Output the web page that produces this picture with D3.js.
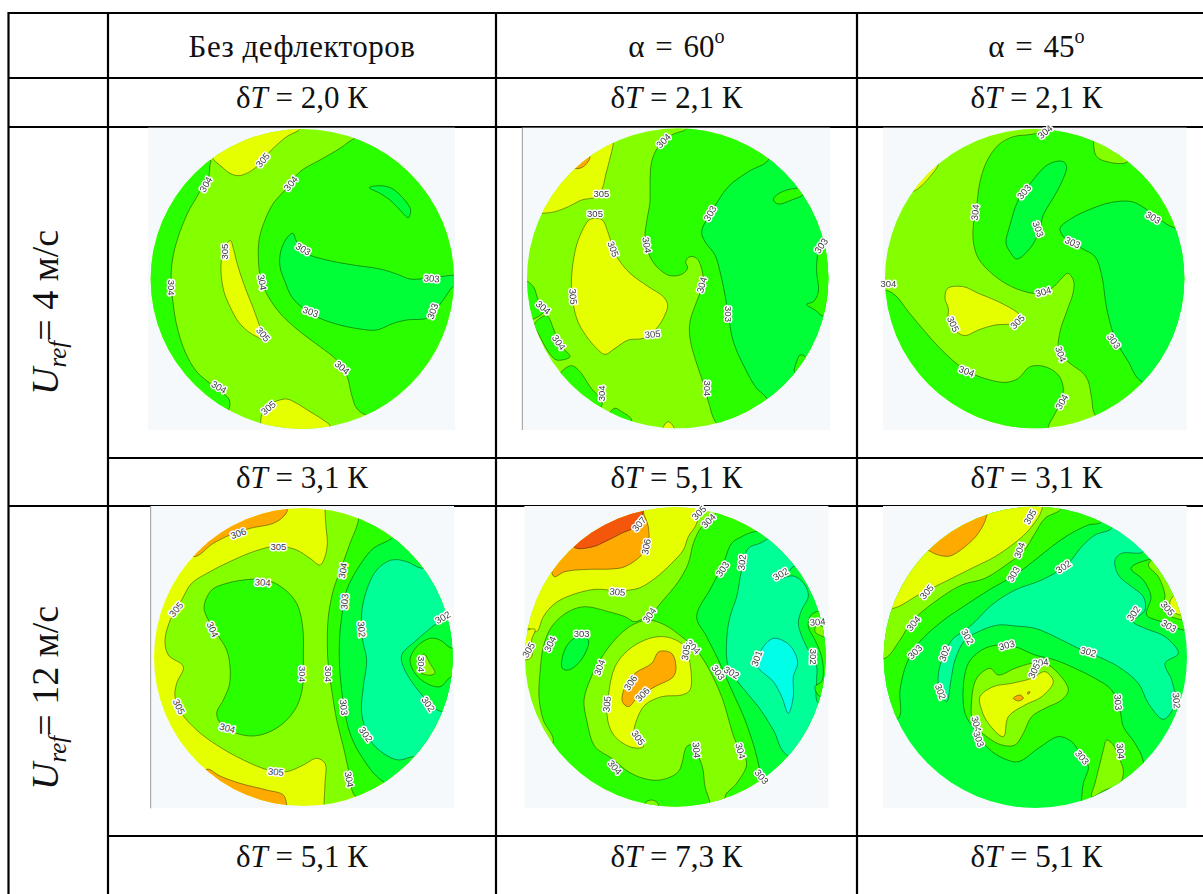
<!DOCTYPE html>
<html>
<head>
<meta charset="utf-8">
<script src="https://cdn.jsdelivr.net/npm/d3@7"></script>
<style>
  html, body { margin: 0; padding: 0; background: #fff; }
  .cell { font-family: "Liberation Serif", serif; fill: #111; }
  .lab { font-family: "Liberation Sans", sans-serif; font-size: 9.5px; fill: #3a3a3a; paint-order: stroke; stroke: #fff; stroke-width: 3px; stroke-linejoin: round; text-anchor: middle; dominant-baseline: central; }
  .soft { filter: blur(0.45px); }
</style>
</head>
<body>
<svg id="chart" width="1203" height="894"></svg>
<script>
// table text
var headers = ["Без дефлекторов", "60", "45"];
var deltaTop = ["2,0", "2,1", "2,1"];
var deltaRow1 = ["3,1", "5,1", "3,1"];
var deltaRow2 = ["5,1", "7,3", "5,1"];
var speeds = ["4", "12"];

// isotherm bands: t = temperature of the band, pts = its outline in section coordinates
var base1 = 304.5;
var bands1 = [
  {t:303.5, pts:[[212,105],[210,120],[205,160],[185,190],[165,225],[145,260],[120,320],[100,390],[93,460],[100,540],[110,600],[135,680],[170,740],[210,775],[250,805],[268,825],[265,855],[200,880],[0,600],[0,300],[100,100]]},
  {t:305.5, pts:[[218,100],[245,125],[270,145],[295,152],[320,145],[350,125],[380,90],[410,60],[440,35],[480,10],[400,-20],[200,50]]},
  {t:305.5, pts:[[362,895],[365,870],[385,840],[410,828],[440,822],[470,835],[510,860],[550,885],[572,905],[570,960],[360,960]]},
  {t:305.5, pts:[[272,347],[280,370],[290,410],[302,450],[320,500],[340,550],[358,600],[375,645],[350,635],[325,620],[295,590],[270,545],[252,500],[243,440],[245,400],[255,365],[265,350]]},
  {t:303.5, pts:[[645,40],[600,70],[540,105],[480,140],[440,190],[400,235],[375,285],[358,340],[355,400],[362,460],[385,515],[425,570],[480,620],[540,665],[590,705],[620,750],[635,810],[650,850],[678,870],[800,900],[1000,700],[1000,200],[800,0]]},
  {t:302.5, pts:[[458,325],[470,350],[500,385],[560,405],[640,420],[720,432],[770,447],[810,462],[860,460],[945,450],[1000,450],[1000,480],[940,485],[920,510],[895,545],[865,578],[800,585],[760,595],[710,615],[660,612],[600,600],[540,580],[490,550],[455,515],[435,470],[420,425],[422,380],[440,340]]},
  {t:302.5, pts:[[688,188],[720,182],[755,190],[785,215],[805,240],[812,255],[805,278],[780,255],[750,225],[720,205]]}
];
var labels1 = [[368,105,"305",-50],[197,178,"304",-60],[452,175,"304",-50],[252,380,"305",-90],[490,372,"303",30],[875,460,"303",5],[93,488,"304",90],[367,472,"304",80],[512,560,"303",20],[878,558,"303",-70],[370,628,"305",50],[607,727,"304",40],[237,786,"304",30],[385,848,"305",-40]];

var base2 = 304.5;
var bands2 = [
  {t:305.5, pts:[[295,55],[285,100],[272,150],[262,190],[245,215],[200,225],[160,245],[120,260],[80,265],[0,265],[0,0],[295,0]]},
  {t:306.5, pts:[[178,130],[205,125],[225,95],[200,60],[150,100]]},
  {t:305.5, pts:[[240,280],[262,285],[280,325],[300,385],[340,440],[400,485],[445,515],[458,540],[445,580],[420,615],[385,640],[340,645],[300,670],[270,688],[240,665],[205,620],[185,580],[170,500],[172,430],[185,360],[205,310],[222,285]]},
  {t:303.5, pts:[[515,10],[470,30],[430,65],[410,110],[405,180],[405,230],[395,290],[390,340],[405,395],[430,430],[465,452],[500,448],[518,430],[512,410],[525,395],[545,400],[558,425],[565,465],[560,490],[545,530],[525,590],[525,640],[540,700],[560,760],[580,830],[605,895],[700,960],[1000,960],[1000,0],[515,-30]]},
  {t:302.5, pts:[[760,105],[700,140],[640,185],[590,260],[560,320],[570,350],[600,390],[615,440],[630,510],[640,570],[655,650],[690,730],[725,790],[755,820],[800,960],[1000,960],[1000,0],[760,60]]},
  {t:303.5, pts:[[925,345],[908,390],[905,440],[910,500],[895,530],[875,538],[900,555],[925,575],[1000,600],[1000,340]]},
  {t:303.5, pts:[[850,188],[815,195],[785,210],[775,225],[790,237],[830,225],[870,205],[880,170]]},
  {t:303.5, pts:[[870,695],[855,690],[845,710],[838,740],[850,750],[900,760]]},
  {t:303.5, pts:[[30,468],[55,485],[70,525],[90,555],[50,585],[20,590]]},
  {t:303.5, pts:[[58,598],[95,572],[115,610],[135,660],[165,695],[125,705],[100,680],[70,625]]},
  {t:303.5, pts:[[138,742],[170,722],[195,740],[225,785],[262,835],[220,880],[120,790]]},
  {t:303.5, pts:[[298,850],[320,860],[350,885],[330,930],[270,900]]},
  {t:305.5, pts:[[445,905],[460,890],[480,915],[470,960],[430,960]]}
];
var labels2 = [[445,47,"304",-45],[259,205,"305",0],[240,266,"305",0],[585,265,"303",-60],[295,372,"305",70],[396,360,"304",80],[918,362,"303",-55],[560,480,"304",-75],[175,515,"305",85],[85,547,"304",40],[640,567,"303",90],[132,652,"304",55],[413,627,"305",-5],[258,805,"304",-90],[577,790,"304",90]];

var base3 = 304.5;
var bands3 = [
  {t:305.5, pts:[[190,118],[165,155],[140,182],[112,200],[50,200],[100,80],[190,60]]},
  {t:305.5, pts:[[218,490],[265,485],[310,505],[370,530],[430,565],[440,580],[420,595],[360,600],[310,615],[270,632],[245,620],[220,585],[220,550],[210,520]]},
  {t:303.5, pts:[[510,15],[470,28],[415,35],[370,60],[335,110],[315,170],[305,240],[295,300],[295,350],[310,400],[350,445],[400,480],[450,500],[490,505],[530,490],[560,460],[578,445],[595,465],[595,500],[575,560],[555,620],[552,680],[585,715],[625,745],[640,770],[650,820],[660,870],[750,960],[1000,960],[1000,-30],[510,-30]]},
  {t:304.5, pts:[[655,50],[662,90],[680,105],[755,112],[780,60],[650,0]]},
  {t:303.5, pts:[[30,495],[60,510],[100,560],[150,620],[195,670],[250,720],[300,750],[390,772],[430,760],[465,725],[510,725],[550,750],[565,790],[555,835],[535,875],[520,905],[520,960],[0,960],[-20,495]]},
  {t:302.5, pts:[[902,310],[850,280],[810,250],[770,230],[710,232],[640,255],[590,280],[555,310],[570,340],[620,370],[660,395],[680,450],[695,550],[720,640],[760,710],[800,770],[1000,800],[1000,310]]},
  {t:302.5, pts:[[540,110],[565,110],[575,125],[565,160],[540,210],[505,270],[490,325],[465,370],[425,402],[405,380],[393,355],[405,300],[430,225],[470,170],[510,125]]}
];
var labels3 = [[510,20,"304",-40],[300,262,"304",-85],[447,200,"303",-50],[835,277,"303",30],[490,312,"303",70],[593,352,"303",25],[40,475,"304",0],[505,500,"304",-15],[235,597,"305",65],[427,590,"305",-45],[717,648,"303",55],[558,687,"304",70],[275,738,"304",20],[560,830,"304",-60]];

var base4 = 305.5;
var bands4 = [
  {t:306.5, pts:[[160,170],[220,130],[270,105],[330,85],[400,70],[430,50],[442,30],[420,0],[100,100]]},
  {t:306.5, pts:[[200,808],[240,828],[300,850],[380,870],[430,885],[440,915],[440,960],[180,900]]},
  {t:304.5, pts:[[555,30],[558,80],[562,130],[555,170],[540,195],[510,175],[470,150],[430,140],[395,140],[340,155],[280,180],[210,215],[155,250],[125,300],[95,350],[75,420],[85,465],[130,500],[110,550],[105,590],[125,640],[170,690],[230,735],[310,780],[385,810],[440,815],[490,795],[530,775],[555,790],[555,850],[552,915],[552,960],[1000,960],[1000,-30],[555,-30]]},
  {t:303.5, pts:[[330,238],[380,240],[430,265],[470,310],[488,380],[490,470],[488,560],[470,620],[435,665],[390,695],[340,708],[290,700],[245,675],[230,640],[250,600],[268,555],[270,500],[260,450],[230,400],[200,350],[192,320],[215,270],[260,250]]},
  {t:303.5, pts:[[655,62],[630,130],[605,200],[580,270],[565,350],[562,430],[565,500],[575,570],[590,660],[610,740],[630,830],[645,888],[800,960],[1000,960],[1000,0],[655,0]]},
  {t:302.5, pts:[[755,115],[700,145],[660,195],[620,270],[605,350],[598,430],[600,520],[612,620],[630,700],[665,770],[730,845],[900,900],[1000,600],[1000,100],[800,60]]},
  {t:301.5, pts:[[845,205],[800,185],[755,180],[710,210],[680,270],[665,340],[668,420],[680,480],[670,560],[665,640],[690,720],[730,760],[775,780],[825,770],[900,800],[1000,650],[1000,200]]},
  {t:302.5, pts:[[925,345],[890,370],[830,420],[785,465],[790,500],[815,545],[850,590],[870,615],[905,635],[1000,635],[1000,345]]},
  {t:303.5, pts:[[870,415],[900,420],[935,445],[1000,445],[1000,530],[935,530],[900,560],[860,550],[825,520],[810,480],[830,440]]},
  {t:304.5, pts:[[852,462],[870,490],[885,520],[860,525],[835,510],[840,480]]}
];
var labels4 = [[295,100,"306",-20],[415,140,"305",0],[608,212,"304",-80],[368,247,"304",5],[108,328,"305",-50],[613,305,"303",-85],[218,388,"304",65],[665,388,"302",85],[908,352,"302",-30],[488,522,"304",90],[565,522,"304",90],[845,492,"304",90],[117,620,"305",65],[612,622,"303",85],[865,612,"302",55],[678,703,"302",55],[262,684,"304",15],[408,815,"305",5],[628,838,"304",80]];

var base5 = 304.5;
var bands5 = [
  {t:305.5, pts:[[545,70],[520,110],[505,150],[470,190],[420,235],[370,265],[310,272],[240,268],[170,285],[120,310],[85,350],[65,395],[40,385],[25,385],[0,385],[0,0],[545,0]]},
  {t:305.5, pts:[[30,395],[60,388],[50,420],[50,470],[30,480],[0,470]]},
  {t:306.5, pts:[[385,35],[400,80],[400,130],[380,165],[330,200],[290,207],[220,208],[150,215],[118,230],[110,215],[100,100],[385,0]]},
  {t:307.5, pts:[[385,35],[360,80],[320,100],[270,125],[235,140],[180,143],[150,100],[385,0]]},
  {t:303.5, pts:[[600,45],[560,80],[535,130],[520,190],[490,245],[445,300],[410,340],[385,355],[358,365],[330,350],[280,335],[210,320],[160,335],[110,380],[85,440],[75,520],[72,590],[85,660],[115,725],[50,800],[200,960],[1000,960],[1000,0],[600,0]]},
  {t:304.5, pts:[[358,372],[400,360],[450,375],[500,410],[540,445],[575,495],[620,590],[660,720],[695,790],[665,850],[630,890],[650,960],[585,960],[585,910],[570,860],[562,800],[530,735],[515,740],[490,815],[435,840],[385,835],[340,815],[290,775],[240,740],[215,660],[207,600],[225,540],[255,480],[290,430],[330,390]]},
  {t:304.5, pts:[[390,910],[410,900],[430,912],[410,960]]},
  {t:305.5, pts:[[432,410],[470,415],[510,440],[525,490],[525,570],[500,585],[440,590],[390,615],[365,660],[358,700],[385,740],[350,742],[300,710],[278,660],[280,590],[300,500],[340,450],[390,420]]},
  {t:306.5, pts:[[432,455],[470,460],[483,500],[475,530],[420,560],[370,590],[340,620],[322,605],[330,560],[360,520],[410,490]]},
  {t:302.5, pts:[[190,410],[220,420],[215,450],[190,490],[160,510],[142,505],[145,460],[165,425]]},
  {t:302.5, pts:[[720,95],[680,110],[650,130],[625,190],[590,260],[545,350],[575,410],[610,480],[650,570],[690,660],[720,750],[735,810],[750,850],[800,960],[1000,960],[1000,95]]},
  {t:301.5, pts:[[735,130],[700,145],[680,210],[665,290],[645,350],[635,420],[640,500],[680,560],[730,620],[775,690],[815,765],[1000,800],[1000,150],[800,100]]},
  {t:302.5, pts:[[785,240],[815,225],[835,200],[900,200],[1000,300],[1000,620],[910,610],[905,540],[905,500],[885,460],[865,420],[850,370],[860,330],[880,290],[870,255],[835,228]]},
  {t:300.5, pts:[[775,415],[810,425],[835,450],[848,490],[835,530],[835,590],[820,640],[800,590],[775,545],[735,510],[725,495],[745,440]]},
  {t:303.5, pts:[[905,335],[885,350],[880,380],[900,420],[920,470],[925,520],[920,545],[900,560],[915,590],[1000,590],[1000,335]]},
  {t:304.5, pts:[[905,375],[925,380],[1000,380],[1000,420],[925,410],[900,395]]}
];
var labels5 = [[552,38,"305",-45],[580,62,"304",-45],[372,72,"307",-50],[393,140,"306",-80],[622,207,"303",-55],[680,187,"302",-85],[797,222,"302",-30],[307,275,"305",5],[403,345,"304",-55],[908,365,"304",-5],[200,400,"303",0],[105,432,"304",-65],[40,450,"305",-60],[535,440,"304",45],[512,457,"305",-80],[253,502,"304",-70],[725,475,"301",-70],[650,517,"302",30],[610,517,"303",55],[895,470,"302",90],[346,548,"306",-55],[382,583,"306",-45],[275,612,"305",-85],[370,713,"305",55],[545,750,"304",85],[677,752,"304",75],[300,802,"304",50],[740,830,"303",50]];

var base6 = 302.5;
var bands6 = [
  {t:303.5, pts:[[680,65],[640,75],[580,105],[530,140],[480,180],[420,225],[350,265],[280,310],[200,365],[130,430],[95,490],[75,570],[70,655],[-30,655],[-30,-30],[680,-30]]},
  {t:304.5, pts:[[560,25],[510,55],[480,100],[445,155],[400,190],[330,235],[260,255],[180,305],[110,365],[75,420],[30,475],[-30,475],[-30,-30],[560,-30]]},
  {t:305.5, pts:[[500,30],[470,80],[430,120],[360,170],[300,200],[200,250],[130,285],[55,325],[-30,325],[-30,-30],[500,-30]]},
  {t:306.5, pts:[[335,48],[310,100],[270,140],[225,168],[190,165],[162,152],[130,130],[335,0]]},
  {t:301.5, pts:[[710,85],[660,105],[620,140],[575,195],[500,240],[420,270],[350,315],[300,365],[265,395],[235,415],[200,480],[190,550],[215,605],[228,540],[240,480],[270,420],[310,395],[370,375],[420,378],[480,385],[540,410],[610,445],[670,470],[730,500],[790,550],[820,610],[865,658],[895,625],[900,590],[890,540],[870,490],[910,460],[870,410],[810,385],[775,365],[810,330],[805,290],[770,260],[730,225],[720,180],[740,160],[805,155],[810,100],[720,40]]},
  {t:303.5, pts:[[825,178],[768,205],[805,240],[828,290],[815,345],[860,365],[925,390],[1000,390],[1000,170]]},
  {t:304.5, pts:[[820,195],[850,230],[870,290],[860,320],[880,345],[925,360],[1000,360],[1000,190],[850,170]]},
  {t:305.5, pts:[[905,280],[885,305],[890,330],[915,345],[1000,340],[1000,260]]},
  {t:303.5, pts:[[620,900],[625,850],[640,800],[615,760],[590,725],[550,710],[490,745],[430,785],[385,775],[340,745],[300,690],[270,640],[265,560],[280,490],[320,450],[370,435],[420,440],[480,465],[540,480],[600,505],[660,535],[710,570],[735,630],[745,680],[780,730],[805,785],[800,960],[620,960]]},
  {t:304.5, pts:[[695,720],[715,735],[730,770],[745,810],[735,850],[690,870],[650,890],[660,850],[675,790],[685,750]]},
  {t:304.5, pts:[[345,505],[370,525],[420,505],[470,490],[510,490],[550,520],[580,570],[560,600],[510,625],[470,650],[445,700],[420,735],[380,735],[335,710],[295,670],[290,600],[305,535]]},
  {t:305.5, pts:[[315,590],[355,560],[410,550],[470,535],[510,515],[535,545],[500,590],[450,615],[400,650],[385,710],[340,670],[320,630]]},
  {t:306.5, pts:[[415,595],[435,585],[445,595],[430,603]]},
  {t:306.5, pts:[[457,578],[465,575],[460,583]]}
];
var labels6 = [[465,50,"305",-60],[433,150,"304",-70],[415,222,"303",-60],[565,200,"302",-35],[155,275,"305",-50],[115,370,"304",-50],[775,340,"302",-55],[878,325,"305",50],[882,377,"303",30],[278,410,"302",60],[120,455,"303",-45],[208,460,"302",-70],[395,435,"303",-15],[640,455,"302",15],[497,487,"304",-5],[477,512,"305",-65],[197,575,"302",70],[730,607,"303",85],[905,602,"302",85],[305,672,"304",75],[312,717,"303",70],[737,753,"304",85],[622,772,"303",50]];

var svg = d3.select("#chart");

var colour = d3.scaleThreshold()
  .domain([301, 302, 303, 304, 305, 306, 307])
  .range(["#00ffe6", "#00ff96", "#00ff36", "#2aff00", "#84ff00", "#e6ff00", "#ffaa00", "#f4560c"]);

// table rules
var colX = [8.5, 108, 496, 857];
var rowY = [13, 78, 127, 458, 506, 836];
var right = 1203, bottom = 894;

var table = svg.append("g").attr("stroke", "#000").attr("stroke-width", 2.2);
colX.forEach(x => table.append("line").attr("x1", x).attr("x2", x).attr("y1", 12).attr("y2", bottom));
rowY.forEach((y, i) => {
  var fromX = (i == 3 || i == 5) ? colX[1] : colX[0];
  table.append("line").attr("x1", fromX).attr("x2", right).attr("y1", y).attr("y2", y);
});

// text cells
var colMid = [302, 676.5, 1036.5];
var fs = 31;

function deltaCell(x, y, val) {
  var t = svg.append("text").attr("class", "cell").attr("x", x).attr("y", y)
    .attr("text-anchor", "middle").attr("font-size", fs);
  t.append("tspan").text("δ");
  t.append("tspan").attr("font-style", "italic").text("T");
  t.append("tspan").text(" = " + val + " К");
}

headers.forEach((h, i) => {
  var t = svg.append("text").attr("class", "cell").attr("x", colMid[i]).attr("y", 56.5)
    .attr("text-anchor", "middle").attr("font-size", fs);
  if (i == 0) { t.attr("letter-spacing", 0.5).text(h); return; }
  t.attr("word-spacing", 3);
  t.append("tspan").text("α = " + h);
  t.append("tspan").attr("font-size", fs * 0.65).attr("dy", -14).text("o");
});
deltaTop.forEach((v, i) => deltaCell(colMid[i], 108, v));
deltaRow1.forEach((v, i) => deltaCell(colMid[i], 488, v));
deltaRow2.forEach((v, i) => deltaCell(colMid[i], 867, v));

var speedStart = [395, 790];
speeds.forEach((s, i) => {
  var t = svg.append("text").attr("class", "cell")
    .attr("transform", `translate(58,${speedStart[i]}) rotate(-90)`)
    .attr("font-size", 38);
  t.append("tspan").attr("font-style", "italic").text("U");
  t.append("tspan").attr("font-style", "italic").attr("font-size", 25).attr("dy", 8).text("ref");
  t.append("tspan").attr("dy", -8).text("= " + s + " м/с");
});

// contour panels
var panels = [
  {base: base1, bands: bands1, labels: labels1, ox: 140, oy: 125, bg: [24, 8, 945, 915], c: [487, 462, 455, 450], edge: false},
  {base: base2, bands: bands2, labels: labels2, ox: 515, oy: 125, bg: [22, 8, 945, 915], c: [488, 460, 452, 450], edge: true},
  {base: base3, bands: bands3, labels: labels3, ox: 875, oy: 125, bg: [24, 8, 935, 915], c: [479, 461, 449, 449], edge: false},
  {base: base4, bands: bands4, labels: labels4, ox: 140, oy: 500, bg: [32, 18, 942, 925], c: [490, 471, 448, 447], edge: true},
  {base: base5, bands: bands5, labels: labels5, ox: 515, oy: 500, bg: [28, 18, 940, 925], c: [481, 471, 451, 449], edge: false},
  {base: base6, bands: bands6, labels: labels6, ox: 875, oy: 500, bg: [24, 18, 935, 925], c: [481, 472, 455, 452], edge: false}
];

panels.forEach((p, i) => {
  var xScale = d3.scaleLinear().domain([0, 975]).range([p.ox, p.ox + 325]);
  var yScale = d3.scaleLinear().domain([0, 975]).range([p.oy, p.oy + 325]);

  var g = svg.append("g").attr("class", "soft");

  g.append("rect")
    .attr("x", xScale(p.bg[0])).attr("y", yScale(p.bg[1]))
    .attr("width", xScale(p.bg[2]) - xScale(p.bg[0]))
    .attr("height", yScale(p.bg[3]) - yScale(p.bg[1]))
    .attr("fill", "#f5f9fb");

  if (p.edge) {
    g.append("line")
      .attr("x1", xScale(p.bg[0])).attr("x2", xScale(p.bg[0]))
      .attr("y1", yScale(p.bg[1])).attr("y2", yScale(p.bg[3]))
      .attr("stroke", "#999").attr("stroke-width", 1);
  }

  var clipId = "clip" + i;
  svg.append("clipPath").attr("id", clipId).append("ellipse")
    .attr("cx", xScale(p.c[0])).attr("cy", yScale(p.c[1]))
    .attr("rx", xScale(p.c[2]) - xScale(0)).attr("ry", yScale(p.c[3]) - yScale(0));

  var disc = g.append("g").attr("clip-path", `url(#${clipId})`);

  disc.append("rect")
    .attr("x", p.ox).attr("y", p.oy).attr("width", 325).attr("height", 325)
    .attr("fill", colour(p.base));

  var line = d3.line()
    .x(d => xScale(d[0]))
    .y(d => yScale(d[1]))
    .curve(d3.curveCatmullRomClosed.alpha(0.5));

  disc.selectAll(".band").data(p.bands)
    .enter().append("path")
    .attr("class", "band")
    .attr("d", d => line(d.pts))
    .attr("fill", d => colour(d.t))
    .attr("stroke", "#000")
    .attr("stroke-opacity", 0.5)
    .attr("stroke-width", 0.8);

  g.selectAll(".lab").data(p.labels)
    .enter().append("text")
    .attr("class", "lab")
    .attr("transform", d => `translate(${xScale(d[0])},${yScale(d[1])}) rotate(${d[3]})`)
    .text(d => d[2]);
});
</script>
</body>
</html>
